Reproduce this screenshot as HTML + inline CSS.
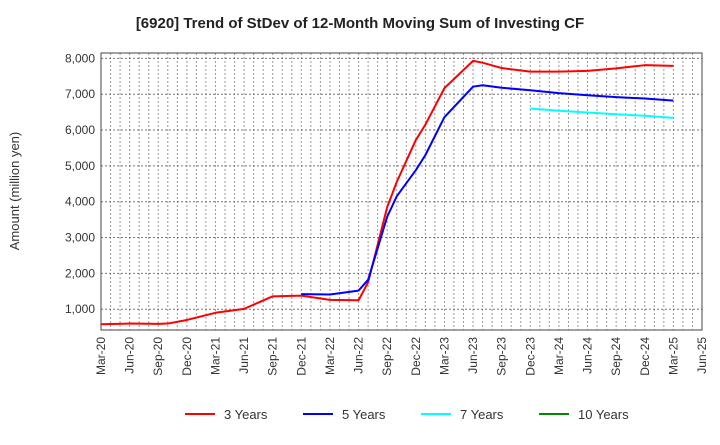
<!DOCTYPE html>
<html><head><meta charset="utf-8"><style>
body{margin:0;background:#fff;font-family:"Liberation Sans",Arial,sans-serif}
svg text{font-family:"Liberation Sans",Arial,sans-serif}
</style></head><body>
<svg id="chart" width="720" height="440" xmlns="http://www.w3.org/2000/svg">
<text x="360" y="28" text-anchor="middle" font-size="15" font-weight="bold" fill="#222">[6920]  Trend of StDev of 12-Month Moving Sum of Investing CF</text>
<text transform="translate(19,191) rotate(-90)" text-anchor="middle" font-size="13" fill="#333">Amount (million yen)</text>
<g id="grid"></g><g id="axes"></g><g id="series"></g><g id="legend"></g>
</svg>
<script>
const xLabels=["Mar-20","Jun-20","Sep-20","Dec-20","Mar-21","Jun-21","Sep-21","Dec-21","Mar-22","Jun-22","Sep-22","Dec-22","Mar-23","Jun-23","Sep-23","Dec-23","Mar-24","Jun-24","Sep-24","Dec-24","Mar-25","Jun-25"];
const yTicks=[1000,2000,3000,4000,5000,6000,7000,8000];
const m3=[0,3,6,7,9,12,15,18,21,24,27,28,30,31,33,34,36,39,40,42,45,48,51,54,57,60];
const v3=[580,600,590,600,700,900,1010,1360,1380,1260,1250,1750,3850,4550,5720,6150,7170,7930,7880,7730,7630,7630,7650,7720,7810,7790];
const m5=[21,24,27,28,30,31,33,34,36,39,40,42,45,48,51,54,57,60];
const v5=[1420,1410,1520,1820,3580,4150,4880,5300,6360,7210,7250,7180,7110,7030,6970,6920,6880,6820];
const m7=[45,48,51,54,57,60];
const v7=[6600,6540,6490,6440,6400,6340];
const m10=[];const v10=[];
const L=101,R=702,T=53,B=330,YMIN=420,YMAX=8150,NM=63;
const NS="http://www.w3.org/2000/svg";
const xs=m=>L+(R-L)*m/NM;
const ys=v=>B-(B-T)*(v-YMIN)/(YMAX-YMIN);
function mk(tag,attrs,parent){const e=document.createElementNS(NS,tag);for(const k in attrs)e.setAttribute(k,attrs[k]);parent.appendChild(e);return e;}
const grid=document.getElementById('grid'),axes=document.getElementById('axes'),series=document.getElementById('series'),legend=document.getElementById('legend');
for(let m=1;m<NM;m++){const l=mk('line',{x1:xs(m),x2:xs(m),y1:T,y2:B,stroke:'#999','stroke-dasharray':'2,2','stroke-width':1},grid);

}
yTicks.forEach(v=>{const l=mk('line',{x1:L,x2:R,y1:ys(v),y2:ys(v),stroke:'#777','stroke-dasharray':'2,2','stroke-width':1},grid);


const t=mk('text',{x:L-6,y:ys(v)+4,'text-anchor':'end','font-size':12,fill:'#333'},axes);t.textContent=v.toLocaleString('en-US');

});
xLabels.forEach((s,i)=>{const x=xs(i*3);const t=mk('text',{transform:`translate(${x+4},337) rotate(-90)`,'text-anchor':'end','font-size':12,fill:'#333'},axes);t.textContent=s;

});
const fr=mk('rect',{x:L,y:T,width:R-L,height:B-T,fill:'none',stroke:'#444','stroke-width':1},axes);


function line(ms,vs,col,name){if(!ms.length)return;const p=mk('polyline',{points:ms.map((m,i)=>xs(m)+','+ys(vs[i])).join(' '),fill:'none',stroke:col,'stroke-width':2,'stroke-linejoin':'round'},series);

}
line(m3,v3,'#f00','line-3-years');line(m5,v5,'#00f','line-5-years');line(m7,v7,'#0ff','line-7-years');line(m10,v10,'#080','line-10-years');
[["3 Years","#f00",185],["5 Years","#00f",303],["7 Years","#0ff",421],["10 Years","#080",539]].forEach(([lab,c,x])=>{
const g=mk('g',{},legend);


mk('line',{x1:x,x2:x+30,y1:414,y2:414,stroke:c,'stroke-width':2},g);
const t=mk('text',{x:x+39,y:419,'font-size':13,fill:'#333'},g);t.textContent=lab;});
</script>
</body></html>
